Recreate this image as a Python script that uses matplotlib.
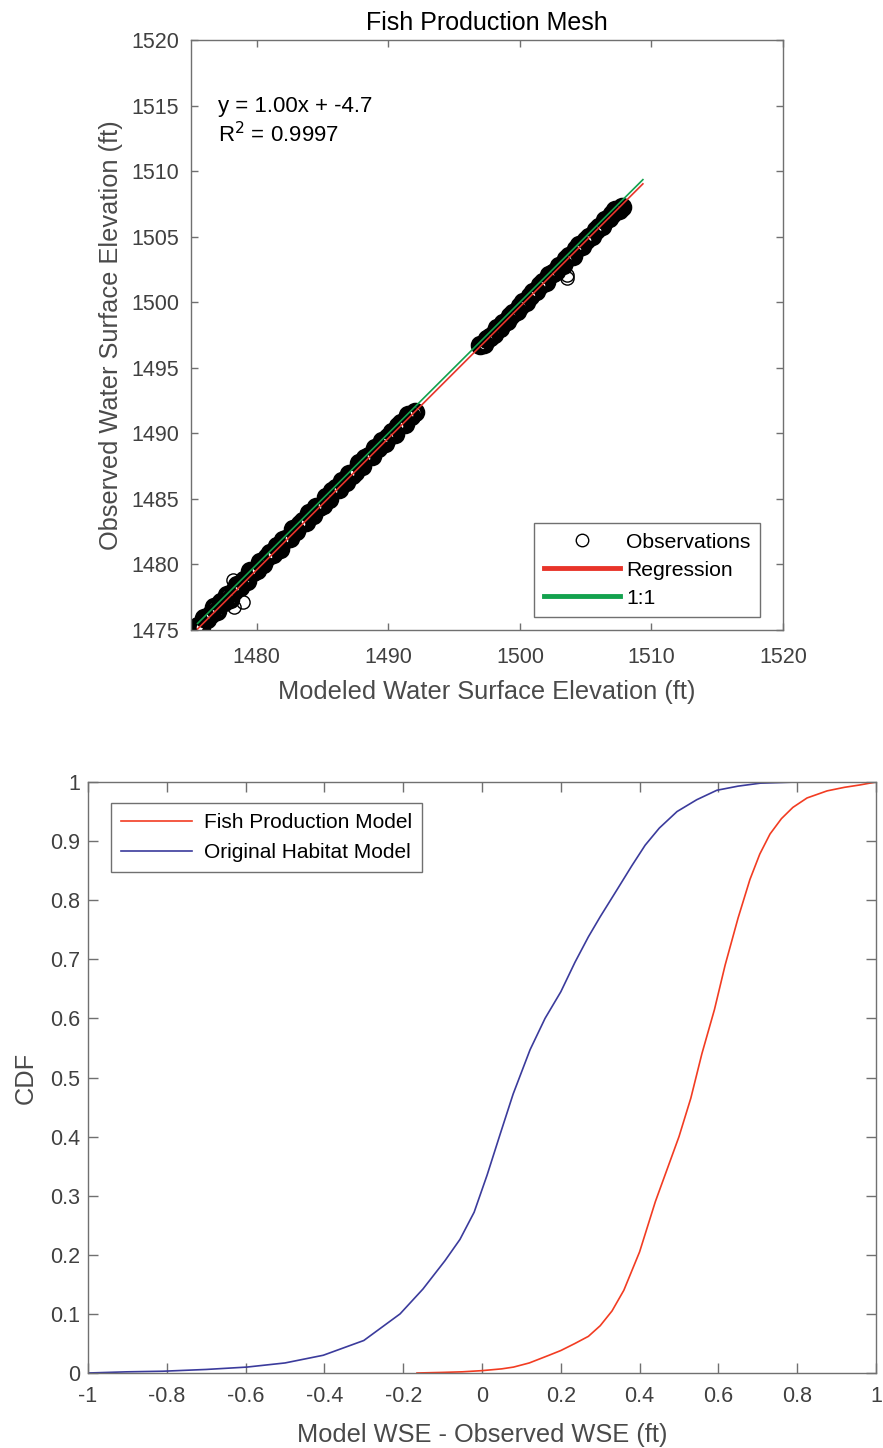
import matplotlib
matplotlib.use("Agg")
import matplotlib.pyplot as plt
from matplotlib.lines import Line2D

plt.rcParams['font.family'] = ['Liberation Sans', 'DejaVu Sans']

# ---------------- data: top panel ----------------
modeled_seg1 = [1475.50, 1475.75, 1476.00, 1476.25, 1476.50, 1476.75, 1477.00, 1477.25,
                1477.50, 1477.75, 1478.00, 1478.25, 1478.50, 1478.75, 1479.00, 1479.25,
                1479.50, 1479.75, 1480.00, 1480.25, 1480.50, 1480.75, 1481.00, 1481.25,
                1481.50, 1481.75, 1482.00, 1482.25, 1482.50, 1482.75, 1483.00, 1483.25,
                1483.50, 1483.75, 1484.00, 1484.25, 1484.50, 1484.75, 1485.00, 1485.25,
                1485.50, 1485.75, 1486.00, 1486.25, 1486.50, 1486.75, 1487.00, 1487.25,
                1487.50, 1487.75, 1488.00, 1488.25, 1488.50, 1488.75, 1489.00, 1489.25,
                1489.50, 1489.75, 1490.00, 1490.25, 1490.50, 1490.75, 1491.00, 1491.25,
                1491.50, 1491.75, 1492.00]
observed_seg1 = [1475.30, 1475.25, 1475.95, 1475.85, 1476.20, 1476.75, 1476.45, 1477.10,
                 1477.15, 1477.65, 1477.40, 1478.00, 1478.45, 1478.30, 1478.80, 1478.75,
                 1479.50, 1479.45, 1479.60, 1480.15, 1480.00, 1480.55, 1480.85, 1480.80,
                 1481.40, 1481.20, 1481.85, 1481.95, 1482.05, 1482.70, 1482.55, 1483.10,
                 1483.30, 1483.25, 1483.90, 1483.80, 1484.35, 1484.40, 1484.55, 1485.15,
                 1485.00, 1485.60, 1485.80, 1485.75, 1486.40, 1486.30, 1486.90, 1486.85,
                 1487.05, 1487.70, 1487.50, 1488.10, 1488.30, 1488.25, 1488.90, 1488.85,
                 1489.45, 1489.30, 1489.75, 1490.10, 1489.95, 1490.55, 1490.80, 1490.75,
                 1491.40, 1491.35, 1491.60]
modeled_seg2 = [1497.00, 1497.25, 1497.50, 1497.75, 1498.00, 1498.25, 1498.50, 1498.75,
                1499.00, 1499.25, 1499.50, 1499.75, 1500.00, 1500.25, 1500.50, 1500.75,
                1501.00, 1501.25, 1501.50, 1501.75, 1502.00, 1502.25, 1502.50, 1502.75,
                1503.00, 1503.25, 1503.50, 1503.75, 1504.00, 1504.25, 1504.50, 1504.75,
                1505.00, 1505.25, 1505.50, 1505.75, 1506.00, 1506.25, 1506.50, 1506.75,
                1507.00, 1507.25, 1507.50, 1507.75]
observed_seg2 = [1496.70, 1496.85, 1497.20, 1497.35, 1497.55, 1498.00, 1498.00, 1498.45,
                 1498.55, 1498.95, 1499.20, 1499.30, 1499.75, 1500.05, 1500.00, 1500.50,
                 1500.80, 1500.85, 1501.30, 1501.55, 1501.55, 1502.05, 1502.20, 1502.40,
                 1502.75, 1502.85, 1503.30, 1503.50, 1503.55, 1504.05, 1504.35, 1504.30,
                 1504.75, 1505.00, 1505.05, 1505.50, 1505.70, 1505.85, 1506.30, 1506.40,
                 1506.70, 1507.05, 1507.05, 1507.30]
modeled_outliers = [1478.30, 1478.95, 1478.20, 1503.60, 1503.55]
observed_outliers = [1476.75, 1477.10, 1478.80, 1501.85, 1502.05]

reg_slope = 1.0029
reg_intercept = -4.7
fit_x_range = [1475.5, 1509.35]
eq_text = "y = 1.00x + -4.7"
r2_text = "R$^2$ = 0.9997"

top_xticks = [1480, 1490, 1500, 1510, 1520]
top_yticks = [1475, 1480, 1485, 1490, 1495, 1500, 1505, 1510, 1515, 1520]

# ---------------- data: bottom panel ----------------
fish_x = [-0.165, -0.10, -0.05, 0.00, 0.05, 0.08, 0.12, 0.17, 0.20, 0.236, 0.27, 0.30,
          0.33, 0.36, 0.40, 0.44, 0.47, 0.50, 0.53, 0.558, 0.59, 0.617, 0.65, 0.68,
          0.705, 0.731, 0.76, 0.789, 0.825, 0.876, 0.92, 0.959, 1.00]
fish_cdf = [0.000, 0.001, 0.002, 0.004, 0.007, 0.010, 0.017, 0.030, 0.038, 0.050, 0.062, 0.080,
            0.105, 0.140, 0.205, 0.290, 0.345, 0.400, 0.465, 0.540, 0.615, 0.690, 0.770, 0.835,
            0.878, 0.912, 0.938, 0.957, 0.973, 0.985, 0.991, 0.995, 1.000]
hab_x = [-1.00, -0.90, -0.81, -0.70, -0.597, -0.50, -0.403, -0.30, -0.208, -0.15, -0.094,
         -0.056, -0.02, 0.013, 0.046, 0.079, 0.122, 0.16, 0.20, 0.236, 0.27, 0.30, 0.342,
         0.38, 0.414, 0.45, 0.495, 0.545, 0.596, 0.65, 0.706, 0.80, 0.90, 1.00]
hab_cdf = [0.000, 0.002, 0.003, 0.006, 0.010, 0.017, 0.030, 0.055, 0.100, 0.142, 0.190,
           0.226, 0.272, 0.335, 0.404, 0.472, 0.547, 0.600, 0.645, 0.695, 0.738, 0.772, 0.817,
           0.858, 0.893, 0.922, 0.950, 0.970, 0.986, 0.993, 0.998, 1.000, 1.000, 1.000]

bot_xticks = [-1, -0.8, -0.6, -0.4, -0.2, 0, 0.2, 0.4, 0.6, 0.8, 1]
bot_xlabels = ['-1', '-0.8', '-0.6', '-0.4', '-0.2', '0', '0.2', '0.4', '0.6', '0.8', '1']
bot_yticks = [0, 0.1, 0.2, 0.3, 0.4, 0.5, 0.6, 0.7, 0.8, 0.9, 1]
bot_ylabels = ['0', '0.1', '0.2', '0.3', '0.4', '0.5', '0.6', '0.7', '0.8', '0.9', '1']

# ---------------- styling ----------------
SPINE = '#707070'
TICKTXT = '#404040'
LABEL = '#4a4a4a'
RED = '#e8342a'
GREEN = '#13a24e'
FISH = '#f23c22'
HAB = '#3b3b9c'

fig = plt.figure(figsize=(8.83, 14.48), dpi=100)

def style_axes(ax, ticklen, xpad, ypad):
    for s in ax.spines.values():
        s.set_color(SPINE)
        s.set_linewidth(1.0)
    ax.tick_params(direction='in', top=True, right=True, length=ticklen, width=1.0,
                   color=SPINE, labelcolor=TICKTXT, labelsize=15.5)
    ax.tick_params(axis='x', pad=xpad)
    ax.tick_params(axis='y', pad=ypad)

# ---- top panel ----
ax1 = fig.add_axes([191/883, 1-630/1448, 592/883, 590/1448])
obs_style = dict(linestyle='none', marker='o', mfc='none', mec='k')
ax1.plot(modeled_seg1, observed_seg1, ms=10.5, mew=3.6, **obs_style)
ax1.plot(modeled_seg2, observed_seg2, ms=10.5, mew=3.6, **obs_style)
ax1.plot(modeled_outliers, observed_outliers, ms=9.5, mew=1.0, **obs_style)
ax1.plot(fit_x_range, [reg_slope*v + reg_intercept for v in fit_x_range], color=RED, lw=1.2)
ax1.plot(fit_x_range, fit_x_range, color=GREEN, lw=1.2)
ax1.set_xlim(1475, 1520)
ax1.set_ylim(1475, 1520)
ax1.set_xticks(top_xticks)
ax1.set_yticks(top_yticks)
style_axes(ax1, 5, 12, 8.5)
ax1.set_xlabel('Modeled Water Surface Elevation (ft)', fontsize=18.3, color=LABEL, labelpad=9)
ax1.set_ylabel('Observed Water Surface Elevation (ft)', fontsize=18.3, color=LABEL, labelpad=6)
ax1.set_title('Fish Production Mesh', fontsize=18, color='black', pad=7)
ax1.text(1477.05, 1514.9, eq_text, fontsize=16, va='center', ha='left', color='black')
ax1.text(1477.05, 1512.75, r2_text, fontsize=16, va='center', ha='left', color='black')

handles = [Line2D([], [], linestyle='none', marker='o', mfc='none', mec='k', ms=9, mew=1.0),
           Line2D([], [], color=RED, lw=3.5),
           Line2D([], [], color=GREEN, lw=3.5)]
leg1 = ax1.legend(handles, ['Observations', 'Regression', '1:1'], loc='lower right',
                  bbox_to_anchor=(760/883, 1-617/1448), bbox_transform=fig.transFigure,
                  fontsize=15.2, fancybox=False, edgecolor=SPINE, framealpha=1,
                  handlelength=3.6, handletextpad=0.3, labelspacing=0.42,
                  borderpad=0.45, borderaxespad=0)
leg1.get_frame().set_linewidth(1.0)

# ---- bottom panel ----
ax2 = fig.add_axes([88/883, 1-1373/1448, 788/883, 591/1448])
ax2.plot(fish_x, fish_cdf, color=FISH, lw=1.2, label='Fish Production Model')
ax2.plot(hab_x, hab_cdf, color=HAB, lw=1.2, label='Original Habitat Model')
ax2.set_xlim(-1, 1)
ax2.set_ylim(0, 1)
ax2.set_xticks(bot_xticks)
ax2.set_xticklabels(bot_xlabels)
ax2.set_yticks(bot_yticks)
ax2.set_yticklabels(bot_ylabels)
style_axes(ax2, 7, 9, 5.5)
ax2.set_xlabel('Model WSE - Observed WSE (ft)', fontsize=18.3, color=LABEL, labelpad=12)
ax2.set_ylabel('CDF', fontsize=18.3, color=LABEL, labelpad=9)
leg2 = ax2.legend(loc='upper left', bbox_to_anchor=(111/883, 1-803/1448),
                  bbox_transform=fig.transFigure, fontsize=15, fancybox=False,
                  edgecolor=SPINE, framealpha=1, handlelength=3.4, handletextpad=0.55,
                  labelspacing=0.5, borderpad=0.5, borderaxespad=0)
leg2.get_frame().set_linewidth(1.0)

fig.savefig('out.png', dpi=100)
